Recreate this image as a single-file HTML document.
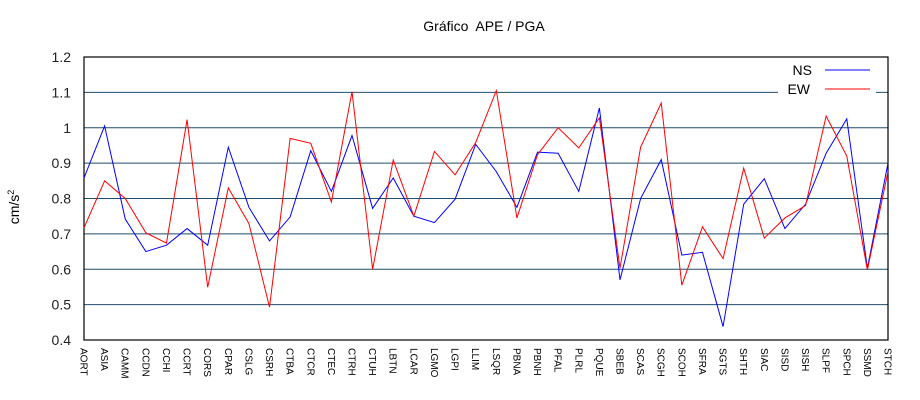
<!DOCTYPE html>
<html><head><meta charset="utf-8"><style>
html,body{margin:0;padding:0;background:#fff;}
svg{display:block;font-family:"Liberation Sans",sans-serif;}
</style></head><body>
<svg id="chart" width="920" height="400" viewBox="0 0 920 400" xmlns="http://www.w3.org/2000/svg">
<text x="484" y="31" font-size="14" text-anchor="middle" style="white-space:pre">Gráfico  APE / PGA</text>
<text transform="translate(19,207) rotate(-90)" font-size="14" text-anchor="middle">cm/s<tspan font-size="9" dy="-5">2</tspan></text>
<g id="grid"></g>
<g id="yticks"></g>
<g id="xticks"></g>
<rect x="84" y="57" width="804" height="283" fill="none" stroke="#000" stroke-width="1.2"/>
<g id="series"></g>
<g>
<rect x="778" y="60" width="98" height="36" fill="#fff"/>
<text x="812" y="75" font-size="14" text-anchor="end">NS</text>
<line x1="825" y1="70" x2="870" y2="70" stroke="#00f" stroke-width="1"/>
<text x="810" y="94" font-size="14" text-anchor="end">EW</text>
<line x1="825" y1="89" x2="870" y2="89" stroke="#f00" stroke-width="1"/>
</g>
</svg>
<script>
const categories=["AORT","ASIA","CAMM","CCDN","CCHI","CCRT","CORS","CPAR","CSLG","CSRH","CTBA","CTCR","CTEC","CTRH","CTUH","LBTN","LCAR","LGMO","LGPI","LLIM","LSQR","PBNA","PBNH","PFAL","PLRL","PQUE","SBEB","SCAS","SCGH","SCOH","SFRA","SGTS","SHTH","SIAC","SISD","SISH","SLPF","SPCH","SSMD","STCH"];
const nsValues=[0.858,1.005,0.742,0.65,0.668,0.715,0.668,0.945,0.775,0.68,0.748,0.935,0.82,0.978,0.772,0.858,0.75,0.732,0.798,0.953,0.876,0.775,0.931,0.928,0.82,1.056,0.57,0.8,0.91,0.64,0.648,0.438,0.784,0.856,0.715,0.784,0.928,1.025,0.603,0.9];
const ewValues=[0.717,0.85,0.8,0.703,0.674,1.023,0.549,0.83,0.729,0.493,0.97,0.956,0.79,1.102,0.6,0.909,0.75,0.933,0.867,0.958,1.105,0.745,0.924,1.0,0.943,1.028,0.603,0.945,1.07,0.555,0.72,0.63,0.886,0.688,0.745,0.78,1.033,0.92,0.598,0.876];
const yTicks=[0.4,0.5,0.6,0.7,0.8,0.9,1,1.1,1.2];
const yTickLabels=["0.4","0.5","0.6","0.7","0.8","0.9","1","1.1","1.2"];
const NS="http://www.w3.org/2000/svg";
const X0=84,X1=888,Y0=340,Y1=57,YMIN=0.4,YMAX=1.2;
function xs(i){return X0+(X1-X0)*i/(categories.length-1);}
function ys(v){return Y0-(v-YMIN)/(YMAX-YMIN)*(Y0-Y1);}
const grid=document.getElementById('grid'),yt=document.getElementById('yticks'),xt=document.getElementById('xticks'),ser=document.getElementById('series');
yTicks.forEach((v,i)=>{
  const y=ys(v);
  if(i>0&&i<yTicks.length-1){
    const l=document.createElementNS(NS,'line');
    
    
    l.setAttribute('x1',X0);l.setAttribute('x2',X1);l.setAttribute('y1',y);l.setAttribute('y2',y);
    l.setAttribute('stroke','#1f4e6e');l.setAttribute('stroke-width','1');
    grid.appendChild(l);
  }
  const t=document.createElementNS(NS,'text');
  
  
  t.setAttribute('x',71);t.setAttribute('y',y+5);t.setAttribute('font-size','14');t.setAttribute('text-anchor','end');t.setAttribute('fill','#222');
  t.textContent=yTickLabels[i];yt.appendChild(t);
});
categories.forEach((c,i)=>{
  const t=document.createElementNS(NS,'text');
  
  
  const x=xs(i)-3.5,y=348;
  t.setAttribute('transform','translate('+x+','+y+') rotate(90)');
  t.setAttribute('font-size','10');
  t.textContent=c;xt.appendChild(t);
});
function line(vals,color,name){
  const p=document.createElementNS(NS,'polyline');
  
  
  p.setAttribute('points',vals.map((v,i)=>xs(i)+','+ys(v)).join(' '));
  p.setAttribute('fill','none');p.setAttribute('stroke',color);p.setAttribute('stroke-width','1');
  ser.appendChild(p);
}
line(nsValues,'#0000ff','ns-series-line');
line(ewValues,'#ff0000','ew-series-line');
</script>
</body></html>
